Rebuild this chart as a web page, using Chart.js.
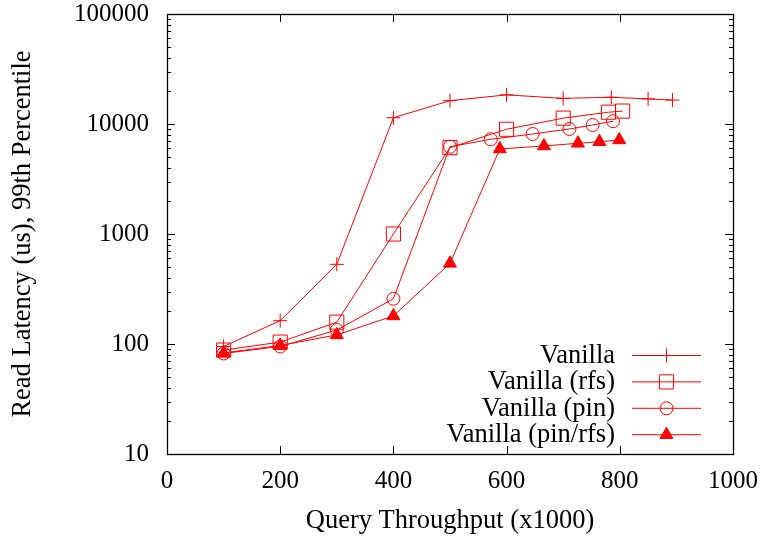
<!DOCTYPE html>
<html>
<head>
<meta charset="utf-8">
<script src="https://cdn.jsdelivr.net/npm/chart.js@4/dist/chart.umd.min.js"></script>
<style>
	html, body { margin: 0; padding: 0; background: #fff; }
	#wrap { width: 763px; height: 541px; }
</style>
</head>
<body>
<div id="wrap"><canvas id="chart" width="763" height="541"></canvas></div>
<script>
// tick labels
const xTicks = [0, 200, 400, 600, 800, 1000];
const yTicks = [10, 100, 1000, 10000, 100000];

// series (x = query throughput x1000, y = 99th pct read latency in us)
const seriesNames = ['Vanilla', 'Vanilla (rfs)', 'Vanilla (pin)', 'Vanilla (pin/rfs)'];
const vanillaX = [100, 200, 300, 400, 500, 600, 700, 785, 850, 893];
const vanillaY = [95, 163, 530, 11400, 16300, 18400, 17100, 17500, 16900, 16500];
const rfsX = [100, 200, 300, 400, 500, 600, 700, 780, 805];
const rfsY = [88, 104, 158, 1000, 6100, 8960, 11300, 12800, 13100];
const pinX = [100, 200, 300, 400, 500, 572, 646, 711, 752, 788];
const pinY = [82, 95, 134, 258, 6220, 7260, 8110, 9010, 9800, 10600];
const pinRfsX = [100, 200, 300, 400, 500, 588, 666, 726, 764, 799];
const pinRfsY = [83, 97, 121, 180, 541, 5930, 6310, 6680, 6900, 7160];

const RED = '#ff0000';
const FONT = 'Liberation Serif, Times New Roman, serif';

function pts(xs, ys) {
	return xs.map((x, i) => ({ x: x, y: ys[i] }));
}

function makeSet(label, data, style, radius, filled) {
	return {
		label: label,
		data: data,
		borderColor: RED,
		backgroundColor: filled ? RED : 'rgba(0,0,0,0)',
		borderWidth: 1,
		pointStyle: style,
		pointRadius: radius,
		pointHoverRadius: radius,
		pointBorderColor: RED,
		pointBackgroundColor: filled ? RED : 'rgba(0,0,0,0)',
		pointBorderWidth: 1,
		tension: 0,
		fill: false
	};
}

// frame, inward ticks (both sides) and the in-plot key
const framePlugin = {
	id: 'frame',
	afterDatasetsDraw(chart) {
		const ctx = chart.ctx;
		const a = chart.chartArea;
		const xs = chart.scales.x;
		const ys = chart.scales.y;
		ctx.save();
		ctx.strokeStyle = '#000';
		ctx.lineWidth = 1;
		ctx.beginPath();
		xTicks.forEach(v => {
			const px = Math.round(xs.getPixelForValue(v)) + 0.5;
			ctx.moveTo(px, a.bottom); ctx.lineTo(px, a.bottom - 8);
			ctx.moveTo(px, a.top); ctx.lineTo(px, a.top + 8);
		});
		for (let d = 10; d < 100000; d *= 10) {
			for (let k = 1; k <= 9; k++) {
				const v = d * k;
				const len = k === 1 ? 8 : 4;
				const py = Math.round(ys.getPixelForValue(v)) + 0.5;
				ctx.moveTo(a.left, py); ctx.lineTo(a.left + len, py);
				ctx.moveTo(a.right, py); ctx.lineTo(a.right - len, py);
			}
		}
		ctx.stroke();
		ctx.lineWidth = 1.3;
		ctx.strokeRect(Math.round(a.left) + 0.5, Math.round(a.top) + 0.5,
			Math.round(a.right - a.left), Math.round(a.bottom - a.top));

		// key
		ctx.font = '26.5px ' + FONT;
		ctx.textAlign = 'right';
		ctx.textBaseline = 'middle';
		chart.data.datasets.forEach((ds, i) => {
			const y = a.bottom - 99 + i * 26.4;
			ctx.fillStyle = '#000';
			ctx.fillText(ds.label, 615, y + 1);
			ctx.strokeStyle = RED;
			ctx.lineWidth = 1;
			ctx.beginPath();
			ctx.moveTo(632, y + 0.5); ctx.lineTo(701, y + 0.5);
			ctx.stroke();
			ctx.fillStyle = ds.pointBackgroundColor;
			Chart.helpers.drawPoint(ctx, {
				pointStyle: ds.pointStyle,
				radius: ds.pointRadius,
				rotation: 0,
				borderWidth: 1
			}, 666.5, y + 0.5);
		});
		ctx.restore();
	}
};

let chart = new Chart(
	document.getElementById('chart'),
	{
		type: 'line',
		data: {
			datasets: [
				makeSet(seriesNames[0], pts(vanillaX, vanillaY), 'cross', 7, false),
				makeSet(seriesNames[1], pts(rfsX, rfsY), 'rect', 10, false),
				makeSet(seriesNames[2], pts(pinX, pinY), 'circle', 6.5, false),
				makeSet(seriesNames[3], pts(pinRfsX, pinRfsY), 'triangle', 7.5, true)
			]
		},
		options: {
			responsive: false,
			animation: false,
			devicePixelRatio: 1,
			layout: { padding: { top: 14, right: 30, left: 0, bottom: 0 } },
			plugins: {
				legend: { display: false },
				tooltip: { enabled: false }
			},
			scales: {
				x: {
					type: 'linear',
					min: 0,
					max: 1000,
					afterBuildTicks: s => { s.ticks = xTicks.map(v => ({ value: v })); },
					afterFit: s => { s.height = 87; s.paddingLeft = 0; s.paddingRight = 0; },
					grid: { display: false, drawTicks: false },
					border: { display: false },
					ticks: {
						color: '#000',
						padding: 12,
						maxRotation: 0,
						callback: v => String(v),
						font: { family: FONT, size: 25 }
					},
					title: {
						display: true,
						text: 'Query Throughput (x1000)',
						color: '#000',
						padding: { top: 0, bottom: 4 },
						font: { family: FONT, size: 26.5 }
					}
				},
				y: {
					type: 'logarithmic',
					min: 10,
					max: 100000,
					afterBuildTicks: s => { s.ticks = yTicks.map(v => ({ value: v })); },
					afterFit: s => { s.width = 167; s.paddingTop = 0; s.paddingBottom = 0; },
					grid: { display: false, drawTicks: false },
					border: { display: false },
					ticks: {
						color: '#000',
						padding: 18,
						callback: v => String(v),
						font: { family: FONT, size: 25 }
					},
					title: {
						display: true,
						text: 'Read Latency (us), 99th Percentile',
						color: '#000',
						padding: { top: 7, bottom: 0 },
						font: { family: FONT, size: 26.5 }
					}
				}
			}
		},
		plugins: [framePlugin]
	}
);
</script>
</body>
</html>
